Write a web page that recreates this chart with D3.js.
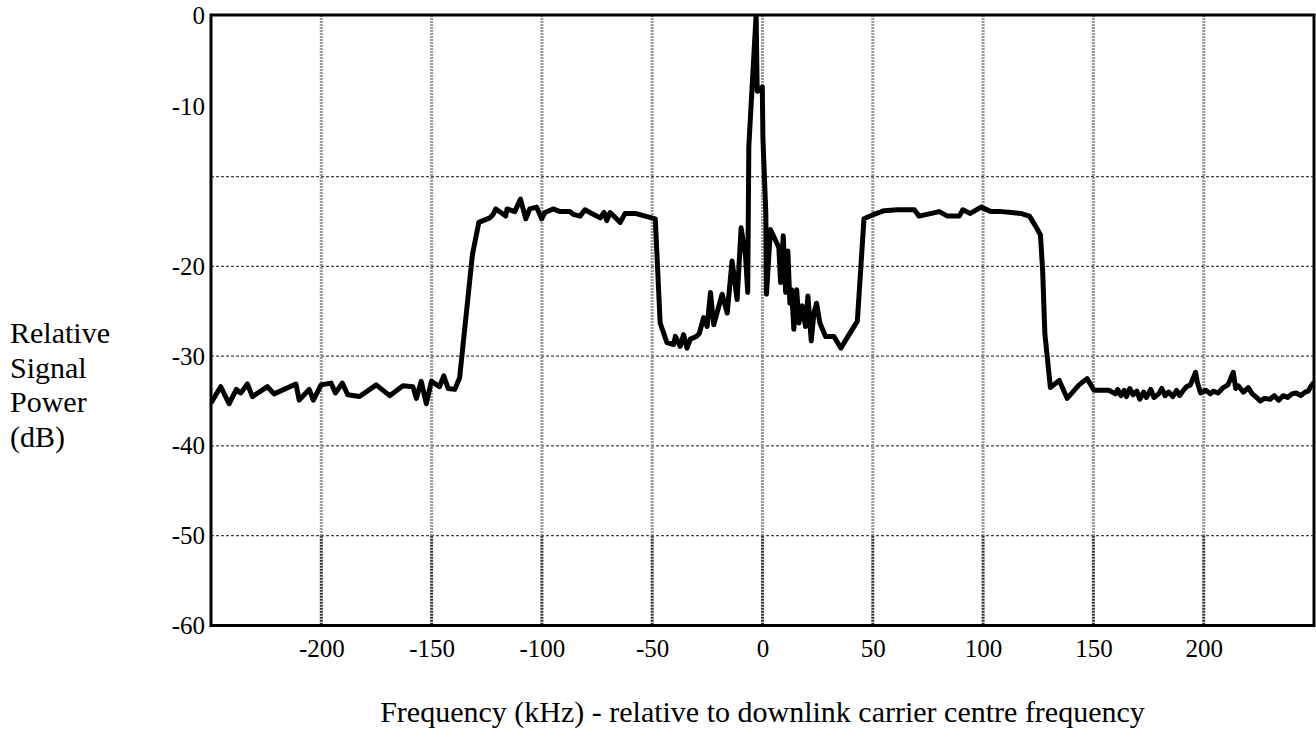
<!DOCTYPE html>
<html><head><meta charset="utf-8">
<script src="https://cdn.jsdelivr.net/npm/d3@7"></script>
<style>body{margin:0;background:#fff}svg{display:block}
svg text{font-family:"Liberation Serif","Times New Roman","DejaVu Serif",serif;fill:#000}</style>
</head><body><svg id="c" width="1316" height="740"></svg>
<script>
// ---- data ----
const freqKHz = [
 -250,-245.6,-241.8,-238.5,-236.5,-233.5,-231.2,-224.4,-221.4,-211.5,-210,-205.5,-203.6,-200.1,-195.6,-193.6,-190.5,-188,-182.7,-175.1,-169,-163,-158.5,-156.9,-154.7,-152.4,-150.1,-146.4,-144.5,-142.5,-139.5,-137.3,
 -131.5,-128.6,-123.6,-122.1,-120.9,-118.6,-116.4,-115.8,-112.3,-109.7,-107.3,-105.5,-102.4,-100.1,-98.6,-94.9,-91.8,-87.3,-85.8,-82.7,-80.5,-77.4,-73.6,-71.8,-70.6,-69.1,-64.5,-62.3,-57.7,-48.6,
 -46.4,-43.3,-40.3,-39.5,-37.3,-35.8,-34.2,-32.7,-30,-28.7,-26.7,-25.1,-23.6,-22.1,-18.3,-16.0,-13.8,-11.5,-9.7,-7.7,-6.7,-6.2,-2.9,-2.4,-0.1,0.2,1.5,1.8,
 3.6,7.4,8.2,9.4,10.5,11.5,12.4,13.2,14.2,15.5,16.5,18.0,19.5,20.6,22.1,23.3,24.5,26.0,28.6,32.4,35.5,43.0,
 46.0,50.6,55.1,61.2,68.8,71.0,80.1,83.9,89.2,90.8,94.2,99.1,103.6,108.2,113,117,121,124,126,127,128,
 130.5,134.5,138.1,143.5,147.1,150.3,157,160,161,162.5,164,165,166.5,168,169.7,171,172.8,174,176,177.5,179.6,181,182.5,184.1,186,187.7,189,190.5,192.2,194,196.3,197.2,198.6,
 201,203,204.4,206.5,208.9,211,213.4,214.5,215.7,218,220.2,222,224,225.6,227.5,230.1,232,234,236,238,240,241.9,244,246,247.3,248.5,250
];
const powerDb = [
 -35.2,-33.4,-35.3,-33.7,-34.1,-33.1,-34.5,-33.4,-34.2,-33.1,-34.9,-33.7,-34.9,-33.2,-33.0,-34.1,-33.0,-34.3,-34.5,-33.2,-34.4,-33.3,-33.4,-34.7,-32.8,-35.3,-32.8,-33.4,-32.2,-33.6,-33.7,-32.4,
 -18.7,-15.1,-14.6,-14.2,-13.6,-14.0,-14.4,-13.6,-13.9,-12.5,-14.7,-13.6,-13.4,-14.7,-14.0,-13.6,-13.9,-13.9,-14.2,-14.4,-13.7,-14.1,-14.6,-14.0,-14.9,-14.0,-15.1,-14.1,-14.1,-14.7,
 -26.3,-28.5,-28.7,-27.8,-28.9,-27.6,-29.1,-28.1,-27.8,-27.5,-25.7,-26.7,-22.9,-26.5,-23.1,-25.2,-19.4,-23.7,-15.7,-18.8,-22.9,-6.6,8.0,-0.5,0.0,-5.8,-14.0,-23.1,
 -15.9,-17.9,-21.8,-16.6,-22.9,-18.3,-24.1,-22.6,-27.0,-22.6,-26.3,-24.4,-26.7,-23.3,-28.3,-25.2,-24.1,-26.3,-27.8,-27.8,-29.1,-26.1,
 -14.7,-14.2,-13.8,-13.7,-13.7,-14.4,-13.9,-14.4,-14.4,-13.7,-14.1,-13.4,-13.9,-13.9,-14.0,-14.1,-14.4,-15.6,-16.5,-20.5,-27.5,
 -33.5,-32.7,-34.7,-33.2,-32.5,-33.8,-33.8,-34.2,-33.7,-34.4,-33.8,-34.5,-33.6,-34.3,-33.9,-34.8,-34.0,-34.6,-33.7,-34.6,-34.2,-33.6,-34.4,-34.0,-34.5,-33.8,-34.4,-33.9,-33.4,-33.2,-31.8,-33.0,-34.1,
 -33.8,-34.2,-33.9,-34.1,-33.5,-33.2,-31.8,-33.6,-33.3,-34.0,-33.5,-34.2,-34.6,-35.0,-34.7,-34.8,-34.4,-34.9,-34.4,-34.6,-34.2,-34.1,-34.4,-34.0,-33.9,-33.4,-32.9
];
const xTickValues = [-200,-150,-100,-50,0,50,100,150,200];
const xTickLabels = ["-200","-150","-100","-50","0","50","100","150","200"];
const yGridValues = [-50,-40,-30,-20,-10];
const yTickLabels = ["0","-10","-20","-30","-40","-50","-60"];
const yTickLabelAt = [8,-2.2,-20,-30,-40,-50,-60];
const xTitle = "Frequency (kHz) - relative to downlink carrier centre frequency";
const yTitleLines = ["Relative","Signal","Power","(dB)"];

// ---- layout ----
const L = 211, R = 1314, T = 15, B = 625.5;
const svg = d3.select("#c");
const x = d3.scaleLinear().domain([-250, 250]).range([L, R]);
const y = d3.scaleLinear().domain([-60, 8]).range([B, T]);

// horizontal grid
svg.append("g").selectAll("line").data(yGridValues).join("line")
  .attr("x1", L).attr("x2", R).attr("y1", d => y(d)).attr("y2", d => y(d))
  .attr("stroke", "#444").attr("stroke-width", 1.3).attr("stroke-dasharray", "3,2");

// vertical grid (lighter above -50, darker below)
const vg = svg.append("g");
vg.selectAll("line.up").data(xTickValues).join("line").attr("class","up")
  .attr("x1", d => x(d)).attr("x2", d => x(d)).attr("y1", T).attr("y2", y(-50))
  .attr("stroke", "#999").attr("stroke-width", 3).attr("stroke-dasharray", "2,1");
vg.selectAll("line.dn").data(xTickValues).join("line").attr("class","dn")
  .attr("x1", d => x(d)).attr("x2", d => x(d)).attr("y1", y(-50)).attr("y2", B)
  .attr("stroke", "#333").attr("stroke-width", 3).attr("stroke-dasharray", "2,1");

// curve
svg.append("clipPath").attr("id","clip").append("rect")
  .attr("x", L).attr("y", T).attr("width", R - L).attr("height", B - T);
const pts = freqKHz.map((f, i) => [f, powerDb[i]]);
svg.append("path").datum(pts)
  .attr("clip-path", "url(#clip)")
  .attr("fill", "none").attr("stroke", "#000").attr("stroke-width", 5)
  .attr("stroke-linejoin", "round")
  .attr("d", d3.line().x(d => x(d[0])).y(d => y(d[1])));

// frame
svg.append("rect").attr("x", L).attr("y", T).attr("width", R - L).attr("height", B - T)
  .attr("fill", "none").attr("stroke", "#000").attr("stroke-width", 3);

// axes (labels only)
const xa = svg.append("g").attr("transform", `translate(0,${B})`)
  .call(d3.axisBottom(x).tickValues(xTickValues).tickSize(0).tickPadding(14)
    .tickFormat((d, i) => xTickLabels[i]));
xa.attr("font-family", null).attr("font-size", 25);
xa.select(".domain").remove();

const ya = svg.append("g").attr("transform", `translate(${L},0)`)
  .call(d3.axisLeft(y).tickValues(yTickLabelAt).tickSize(0).tickPadding(6)
    .tickFormat((d, i) => yTickLabels[i]));
ya.attr("font-family", null).attr("font-size", 25);
ya.select(".domain").remove();

// titles
svg.append("text").attr("x", (L + R) / 2).attr("y", 722).attr("text-anchor", "middle")
  .attr("font-size", 30).text(xTitle);
svg.append("g").selectAll("text").data(yTitleLines).join("text")
  .attr("x", 10).attr("y", (d, i) => 343 + i * 34.7)
  .attr("font-size", 30).text(d => d);
</script></body></html>
